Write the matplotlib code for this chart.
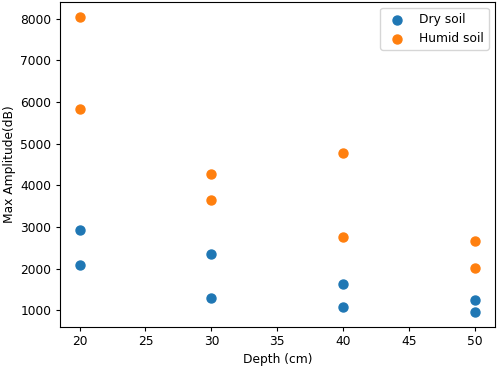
import matplotlib
matplotlib.use('Agg')
import matplotlib.pyplot as plt

dry_depth = [20, 20, 30, 30, 40, 40, 50, 50]
dry_amp = [2920, 2090, 2340, 1300, 1620, 1090, 1240, 950]

humid_depth = [20, 20, 30, 30, 40, 40, 50, 50]
humid_amp = [8050, 5840, 4280, 3650, 4770, 2760, 2660, 2010]

plt.rcParams['font.size'] = 8.8
plt.rcParams['xtick.major.size'] = 3
plt.rcParams['ytick.major.size'] = 3
plt.rcParams['xtick.major.pad'] = 3
plt.rcParams['ytick.major.pad'] = 3

fig = plt.figure(figsize=(4.98, 3.68), dpi=100)
ax = fig.add_axes([0.120, 0.111, 0.874, 0.884])

ax.scatter(dry_depth, dry_amp, s=42, color='#1f77b4', label='Dry soil')
ax.scatter(humid_depth, humid_amp, s=42, color='#ff7f0e', label='Humid soil')

ax.set_xlabel('Depth (cm)', labelpad=3)
ax.set_ylabel('Max Amplitude(dB)', labelpad=3)
ax.legend()

fig.savefig('out.png', dpi=100)
